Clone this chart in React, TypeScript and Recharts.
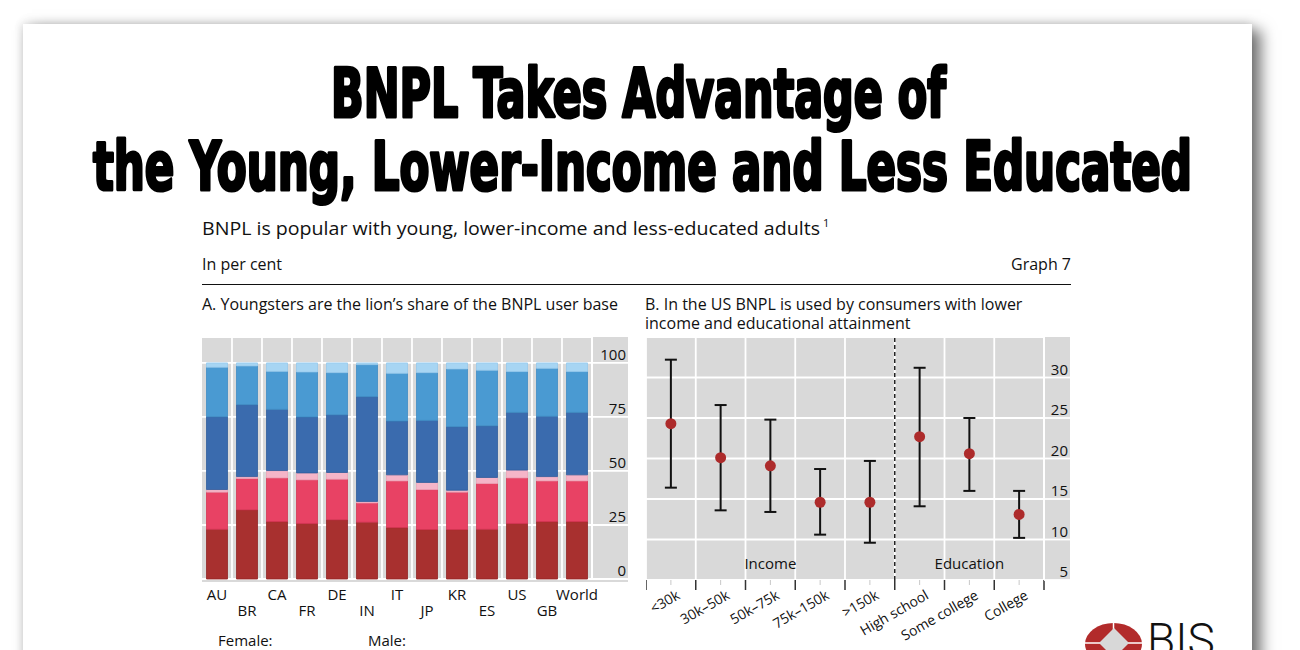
import React from 'react';
import {
  BarChart, Bar, ScatterChart, Scatter, ErrorBar, XAxis, YAxis, CartesianGrid,
  ReferenceLine, ReferenceDot,
} from 'recharts';

// Panel A: share of BNPL users by sex and age group, per cent
const countries = ['AU', 'BR', 'CA', 'FR', 'DE', 'IN', 'IT', 'JP', 'KR', 'ES', 'US', 'GB', 'World'];
const femaleYoung = [23.0, 32.0, 26.6, 25.7, 27.4, 26.3, 23.8, 22.9, 22.9, 23.0, 25.7, 26.6, 26.6];
const femaleMid = [17.2, 14.5, 20.2, 20.2, 18.8, 8.9, 21.6, 18.5, 17.3, 21.2, 21.1, 18.8, 18.8];
const femaleOld = [1.2, 0.9, 3.4, 3.2, 3.1, 0.7, 2.8, 3.3, 0.9, 2.8, 3.6, 2.0, 2.8];
const maleYoung = [33.7, 33.3, 28.3, 25.9, 26.7, 48.5, 24.9, 28.7, 29.4, 23.9, 26.7, 27.9, 28.9];
const maleMid = [22.9, 17.9, 17.6, 20.8, 19.5, 14.8, 22.1, 22.1, 26.7, 25.7, 18.9, 22.2, 18.9];
const maleOld = [2.0, 1.4, 3.9, 4.2, 4.5, 0.8, 4.8, 4.5, 2.8, 3.4, 4.0, 2.5, 4.0];
const shareTicks = [0, 25, 50, 75, 100];

// Panel B: US BNPL use by income and education, per cent with confidence band
const groups = ['<30k', '30k–50k', '50k–75k', '75k–150k', '>150k', 'High school', 'Some college', 'College'];
const useMean = [24.3, 20.1, 19.1, 14.6, 14.6, 22.7, 20.6, 13.1];
const useLow = [16.4, 13.6, 13.4, 10.6, 9.6, 14.1, 16.0, 10.2];
const useHigh = [32.2, 26.6, 24.8, 18.7, 19.7, 31.2, 25.0, 16.0];
const useTicks = [5, 10, 15, 20, 25, 30];
const groupSpans = [
  { name: 'Income', from: 0, to: 5 },
  { name: 'Education', from: 5, to: 8 },
];

const FONT = "'Open Sans', 'Noto Sans', sans-serif";

const series = [
  { key: 'femaleYoung', values: femaleYoung, fill: '#a8302f', stroke: '#932424' },
  { key: 'femaleMid', values: femaleMid, fill: '#e84264', stroke: '#d63353' },
  { key: 'femaleOld', values: femaleOld, fill: '#f5b5c8', stroke: '#eea3b8' },
  { key: 'maleYoung', values: maleYoung, fill: '#3a6bae', stroke: '#2f5d9c' },
  { key: 'maleMid', values: maleMid, fill: '#4a9ad2', stroke: '#3d8cc4' },
  { key: 'maleOld', values: maleOld, fill: '#a7d5f3', stroke: '#95c9ec' },
];

const shareData = countries.map((c, i) => {
  const row: any = { country: c };
  series.forEach(s => { row[s.key] = s.values[i]; });
  return row;
});

const useData = groups.map((g, i) => ({
  pos: i + 0.5,
  mean: useMean[i],
  err: [useMean[i] - useLow[i], useHigh[i] - useMean[i]],
}));
const edgeTicks = [...groups.map((_, i) => i), groups.length];

const CountryTick = ({ x, y, payload, index }: any) => (
  <text x={x} y={y + (index % 2 === 0 ? 21 : 37)} textAnchor="middle" fontSize={15} fill="#111" fontFamily={FONT}>
    {payload.value}
  </text>
);

const RightTick = ({ x, y, payload }: any) => (
  <text x={x - 2} y={y - 3} textAnchor="end" fontSize={15} fill="#111" fontFamily={FONT}>
    {payload.value}
  </text>
);

// labels sit in the middle of each band, ticks at the band edges
const GroupTick = ({ x, y, payload, width }: any) => {
  const i = payload.value;
  if (i >= groups.length) return <g />;
  const half = (typeof width === 'number' && width > 0 ? width : 398) / groups.length / 2;
  const cx = x + half;
  const axisY = y - 10;
  return (
    <g>
      <line x1={cx} x2={cx} y1={axisY} y2={axisY + 5} stroke="#c8c8c8" strokeWidth={1} />
      <text transform={`translate(${cx + 10},${axisY + 18}) rotate(-30)`} textAnchor="end" fontSize={14} fill="#111" fontFamily={FONT}>
        {groups[i]}
      </text>
    </g>
  );
};

const Dot = ({ cx, cy }: any) => <circle cx={cx} cy={cy} r={5.5} fill="#ad2b2b" />;

// white separators between the country bands
const bandEdges = ({ offset }: any) => {
  const n = countries.length;
  const out: number[] = [];
  for (let i = 1; i <= n; i++) out.push(offset.left + (i * offset.width) / n);
  return out;
};

const GRID = '#ffffff';
const BG = '#d9d9d9';

export default function App() {
  return (
    <div style={{ position: 'absolute', left: 0, top: 0, width: 1300, height: 650, overflow: 'hidden', background: '#fff', fontFamily: FONT }}>
      <div style={{
        position: 'absolute', left: 23, top: 24, width: 1229, height: 700, background: '#fff',
        boxShadow: '9px 6px 14px rgba(0,0,0,0.55), 0 -3px 10px rgba(0,0,0,0.07), -3px 0 8px rgba(0,0,0,0.07)',
      }} />

      <svg width={1300} height={650} style={{ position: 'absolute', left: 0, top: 0 }}>
        <g fontFamily="'Liberation Sans Narrow', 'DejaVu Sans Condensed', 'DejaVu Sans', sans-serif" fontWeight={700} fontSize={68} fill="#000" stroke="#000" strokeWidth={3.2} strokeLinejoin="round">
          <text x={331} y={117} textLength={615} lengthAdjust="spacingAndGlyphs">BNPL Takes Advantage of</text>
          <text x={93} y={190} textLength={1099} lengthAdjust="spacingAndGlyphs">the Young, Lower-Income and Less Educated</text>
        </g>
        <g fontFamily={FONT} fill="#111">
          <text x={202} y={235} fontSize={19} textLength={618} lengthAdjust="spacingAndGlyphs">
            BNPL is popular with young, lower-income and less-educated adults
          </text>
          <text x={823} y={227} fontSize={11}>1</text>
          <text x={202} y={270} fontSize={16}>In per cent</text>
          <text x={1071} y={270} fontSize={16} textAnchor="end">Graph 7</text>
          <line x1={202} x2={1071} y1={284.5} y2={284.5} stroke="#111" strokeWidth={1} />
          <text x={202} y={310} fontSize={16}>A. Youngsters are the lion’s share of the BNPL user base</text>
          <text x={645} y={310} fontSize={16}>B. In the US BNPL is used by consumers with lower</text>
          <text x={645} y={329} fontSize={16}>income and educational attainment</text>
          <text x={218} y={646} fontSize={15}>Female:</text>
          <text x={368} y={646} fontSize={15}>Male:</text>
        </g>
        <g>
          <ellipse cx={1113.5} cy={644} rx={28.5} ry={21} fill="#b22b2b" />
          <line x1={1113.5} x2={1113.5} y1={622} y2={666} stroke="#fff" strokeWidth={1.5} />
          <line x1={1085} x2={1142} y1={643} y2={643} stroke="#fff" strokeWidth={1.5} />
          <polygon points="1114,628 1129,643 1114,658 1099,643" fill="#d8d8d8" />
          <text x={1147} y={656} fontSize={46} fontFamily="Roboto, sans-serif" fontWeight={300} fill="#111">BIS</text>
        </g>
      </svg>

      {/* Panel A */}
      <div style={{ position: 'absolute', left: 202, top: 337, width: 426, height: 300 }}>
        <div style={{ position: 'absolute', left: 0, top: 0, width: 426, height: 245, background: BG }} />
        <BarChart width={426} height={300} data={shareData} margin={{ top: 0, right: 0, bottom: 0, left: 0 }} barCategoryGap="15%">
          <CartesianGrid stroke={GRID} strokeWidth={1.8} verticalCoordinatesGenerator={bandEdges} />
          <XAxis dataKey="country" interval={0} height={58} tickLine={false} axisLine={false} tickSize={0} tickMargin={0} tick={CountryTick} />
          <YAxis orientation="right" width={36} domain={[0, 112]} ticks={shareTicks} tickSize={36} tickMargin={0}
            tickLine={{ stroke: GRID, strokeWidth: 1.8 }} axisLine={{ stroke: GRID, strokeWidth: 1.8 }} tick={RightTick} />
          {series.map(s => (
            <Bar key={s.key} dataKey={s.key} stackId="a" fill={s.fill} stroke={s.stroke} strokeWidth={0.8} isAnimationActive={false} />
          ))}
        </BarChart>
      </div>

      {/* Panel B */}
      <div style={{ position: 'absolute', left: 646, top: 337, width: 424, height: 313 }}>
        <div style={{ position: 'absolute', left: 0, top: 0, width: 424, height: 243, background: BG }} />
        <ScatterChart width={424} height={313} margin={{ top: 0, right: 0, bottom: 0, left: 0 }}>
          <CartesianGrid stroke={GRID} strokeWidth={1.8} />
          <XAxis dataKey="pos" type="number" domain={[0, groups.length]} ticks={edgeTicks} interval={0} height={70}
            axisLine={false} tickSize={10} tickMargin={0} tickLine={{ stroke: '#333', strokeWidth: 1.5 }} tick={GroupTick} />
          <YAxis dataKey="mean" orientation="right" width={26} domain={[5, 35]} ticks={useTicks} tickSize={26} tickMargin={0}
            tickLine={{ stroke: GRID, strokeWidth: 1.8 }} axisLine={{ stroke: GRID, strokeWidth: 1.8 }} tick={RightTick} />
          <ReferenceLine x={groupSpans[1].from} stroke="#222" strokeWidth={1.5} strokeDasharray="4 3" />
          {groupSpans.map(g => (
            <ReferenceDot key={g.name} x={(g.from + g.to) / 2} y={7.05} r={0} fill="none" stroke="none"
              label={{ value: g.name, position: 'center', fontSize: 15, fill: '#111', fontFamily: FONT }} />
          ))}
          <Scatter data={useData} dataKey="mean" shape={Dot} isAnimationActive={false}>
            <ErrorBar dataKey="err" direction="y" width={6} stroke="#111" strokeWidth={2} />
          </Scatter>
        </ScatterChart>
      </div>
    </div>
  );
}
